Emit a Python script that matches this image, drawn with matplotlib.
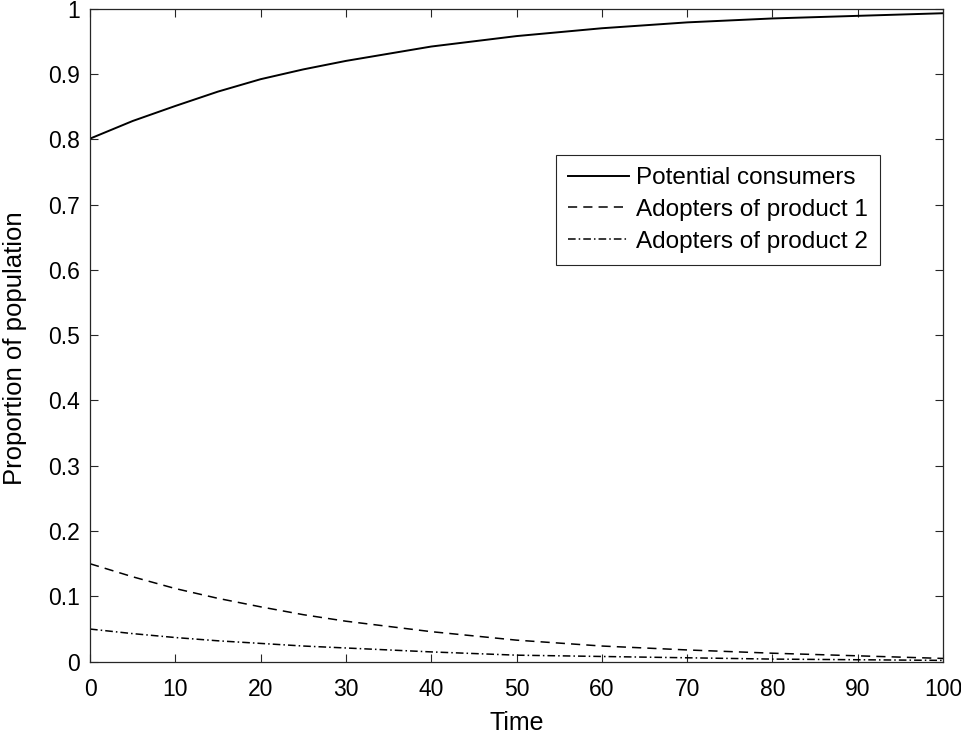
import matplotlib
matplotlib.use('Agg')
import matplotlib.pyplot as plt

plt.rcParams['font.family'] = ['Liberation Sans', 'DejaVu Sans']

# values
time = [0, 5, 10, 15, 20, 25, 30, 40, 50, 60, 70, 80, 90, 100]
potential = [0.801, 0.828, 0.851, 0.873, 0.892, 0.907, 0.920, 0.942, 0.958,
             0.970, 0.979, 0.985, 0.989, 0.993]
adopters1 = [0.150, 0.130, 0.112, 0.097, 0.084, 0.072, 0.062, 0.046, 0.033,
             0.024, 0.018, 0.013, 0.009, 0.005]
adopters2 = [0.050, 0.043, 0.037, 0.032, 0.028, 0.024, 0.021, 0.015, 0.010,
             0.008, 0.006, 0.004, 0.003, 0.002]
labels = ['Potential consumers', 'Adopters of product 1', 'Adopters of product 2']

fig = plt.figure(figsize=(9.61, 7.34), dpi=100)
ax = fig.add_axes([0.0937, 0.0985, 0.8876, 0.8897])

ax.plot(time, potential, color='black', linewidth=1.4, label=labels[0])
ax.plot(time, adopters1, color='black', linewidth=1.1, dashes=(6, 4), label=labels[1])
ax.plot(time, adopters2, color='black', linewidth=1.1, dashes=(5, 2, 1, 2), label=labels[2])

ax.set_xlim(0, 100)
ax.set_ylim(0, 1)
ax.set_xticks(range(0, 101, 10))
ax.set_yticks([i / 10 for i in range(11)])
ax.set_yticklabels(['0', '0.1', '0.2', '0.3', '0.4', '0.5', '0.6', '0.7', '0.8', '0.9', '1'])
ax.tick_params(direction='in', top=True, right=True, labelsize=16.5, length=6,
               width=0.8, color='#262626')
ax.tick_params(axis='y', pad=7)
ax.tick_params(axis='x', pad=12)
for s in ax.spines.values():
    s.set_linewidth(0.9)
    s.set_color('#262626')

ax.set_xlabel('Time', fontsize=18)
ax.set_ylabel('Proportion of population', fontsize=18.5)
ax.xaxis.set_label_coords(0.5, -0.076)
ax.yaxis.set_label_coords(-0.074, 0.48)

leg = ax.legend(loc='upper left', bbox_to_anchor=(0.546, 0.776), fontsize=17.5,
                frameon=True, fancybox=False, edgecolor='#262626', framealpha=1,
                handlelength=2.5, handletextpad=0.3, borderpad=0.5,
                labelspacing=0.4, borderaxespad=0)
leg.get_frame().set_linewidth(0.8)

fig.savefig('out.png', dpi=100)
